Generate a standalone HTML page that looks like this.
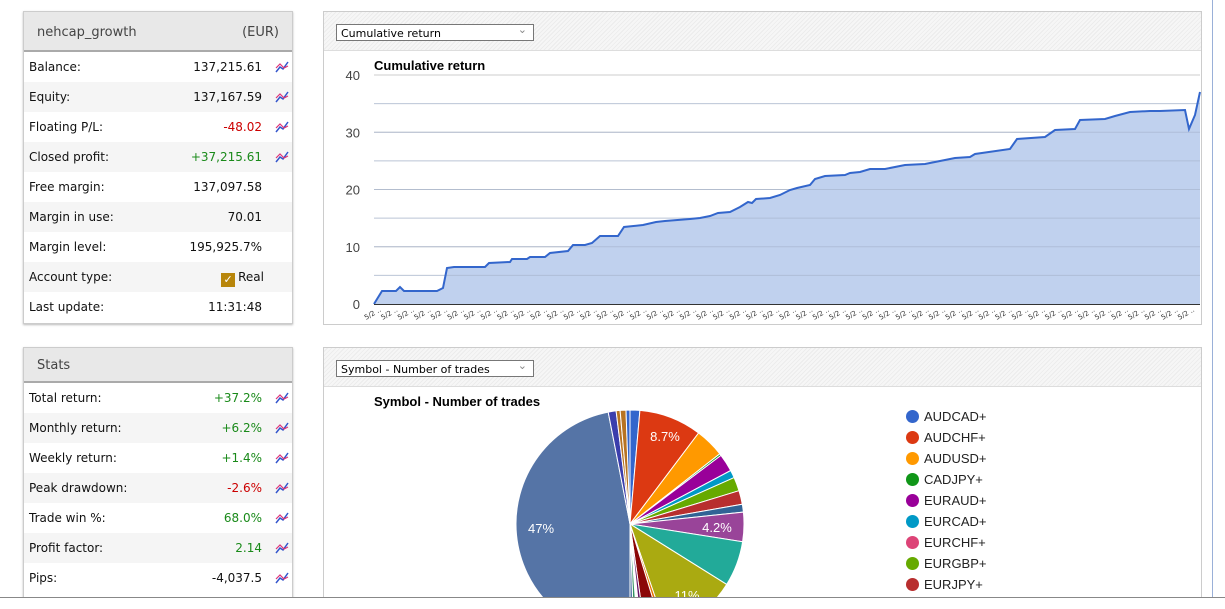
<!DOCTYPE html>
<html><head><meta charset="utf-8"><style>
body{margin:0;width:1225px;height:608px;overflow:hidden;background:#fff;font-family:"DejaVu Sans","Liberation Sans",sans-serif;position:relative}
.panel{position:absolute;border:1px solid #ccc;box-shadow:0 1px 2px #bbb;background:#fff;overflow:hidden}
.lh{background:#e8e8e8;border-bottom:2px solid #aaa;height:38px;font-size:13px;color:#444;box-sizing:border-box;padding:12px 13px}
.row{height:30px;font-size:12px;color:#111;position:relative;line-height:30px;padding-left:5px}
.row .v{position:absolute;right:30px;top:0}
.row svg{position:absolute;right:3px;top:8px}
.g{color:#1a8a1a}.r{color:#c00}
.hatch{height:38px;border-bottom:1px solid #ddd;background:repeating-linear-gradient(135deg,#f6f6f6 0 2px,#ececec 2px 3px);position:relative}
.sel{position:absolute;left:12px;top:12px;height:17px;border:1px solid #777;background:#fff;font-size:11px;line-height:17px;padding-left:4px;box-sizing:border-box;width:198px}
.sel:after{content:"\2304";position:absolute;right:6px;top:-4px;color:#888;font-size:11px}
.lg{position:absolute;left:906px;font:13px "Liberation Sans",sans-serif;color:#222}
.lg i{display:inline-block;width:13px;height:13px;border-radius:50%;margin-right:5px;vertical-align:-2px}
</style></head><body>
<div class="panel" style="left:23px;top:11px;width:268px;height:311px">
<div class="lh" style="height:40px;padding-top:13px">nehcap_growth<span style="float:right;margin-right:0">(EUR)</span></div>
<div>
<div class="row" style="background:#fff">Balance:<span class="v">137,215.61</span>ICON</div>
<div class="row" style="background:#f5f5f5">Equity:<span class="v">137,167.59</span>ICON</div>
<div class="row" style="background:#fff">Floating P/L:<span class="v r">-48.02</span>ICON</div>
<div class="row" style="background:#f5f5f5">Closed profit:<span class="v g">+37,215.61</span>ICON</div>
<div class="row" style="background:#fff">Free margin:<span class="v">137,097.58</span></div>
<div class="row" style="background:#f5f5f5">Margin in use:<span class="v">70.01</span></div>
<div class="row" style="background:#fff">Margin level:<span class="v">195,925.7%</span></div>
<div class="row" style="background:#f5f5f5">Account type:<span class="v" style="right:28px"><span style="display:inline-block;width:14px;height:14px;background:#b8860b;color:#fff;font-size:11px;line-height:14px;text-align:center;vertical-align:-2px;margin-right:3px">✓</span>Real</span></div>
<div class="row" style="background:#fff">Last update:<span class="v">11:31:48</span></div>
</div></div>
<div class="panel" style="left:23px;top:347px;width:268px;height:250px">
<div class="lh" style="height:35px;padding-top:10px">Stats</div>
<div class="row" style="background:#fff">Total return:<span class="v g">+37.2%</span>ICON</div>
<div class="row" style="background:#f5f5f5">Monthly return:<span class="v g">+6.2%</span>ICON</div>
<div class="row" style="background:#fff">Weekly return:<span class="v g">+1.4%</span>ICON</div>
<div class="row" style="background:#f5f5f5">Peak drawdown:<span class="v r">-2.6%</span>ICON</div>
<div class="row" style="background:#fff">Trade win %:<span class="v g">68.0%</span>ICON</div>
<div class="row" style="background:#f5f5f5">Profit factor:<span class="v g">2.14</span>ICON</div>
<div class="row" style="background:#fff">Pips:<span class="v">-4,037.5</span>ICON</div>
</div>
<div class="panel" style="left:323px;top:11px;width:877px;height:312px;box-shadow:none">
<div class="hatch"><div class="sel">Cumulative return</div></div>
</div>
<div class="panel" style="left:323px;top:347px;width:877px;height:250px;box-shadow:none">
<div class="hatch"><div class="sel">Symbol - Number of trades</div></div>
</div>
<svg id="c" style="position:absolute;left:0;top:0" width="1225" height="597"></svg>
<div class="lg" style="top:409px"><i style="background:#3366cc"></i>AUDCAD+</div>
<div class="lg" style="top:430px"><i style="background:#dc3912"></i>AUDCHF+</div>
<div class="lg" style="top:451px"><i style="background:#ff9900"></i>AUDUSD+</div>
<div class="lg" style="top:472px"><i style="background:#109618"></i>CADJPY+</div>
<div class="lg" style="top:493px"><i style="background:#990099"></i>EURAUD+</div>
<div class="lg" style="top:514px"><i style="background:#0099c6"></i>EURCAD+</div>
<div class="lg" style="top:535px"><i style="background:#dd4477"></i>EURCHF+</div>
<div class="lg" style="top:556px"><i style="background:#66aa00"></i>EURGBP+</div>
<div class="lg" style="top:577px"><i style="background:#b82e2e"></i>EURJPY+</div>
<div style="position:absolute;left:0;top:597px;width:1225px;height:11px;background:#fff;border-top:1px solid #888"></div>
<div style="position:absolute;left:1212px;top:0;width:1px;height:597px;background:#9ab0d8"></div>
<script>
var icon='<svg width="14" height="13"><polyline points="1,12 5,7 8,9 13,2" fill="none" stroke="#3355cc" stroke-width="1.5"/><polyline points="1,8 5,4 9,8 13,6" fill="none" stroke="#dd3377" stroke-width="1.2"/></svg>';
document.querySelectorAll('.row').forEach(function(r){r.innerHTML=r.innerHTML.replace('ICON',icon)});
var s='';
for(var v=0;v<=40;v+=5){var y=304-v*5.725;s+='<line x1="374" x2="1200" y1="'+y+'" y2="'+y+'" stroke="'+(v%10?'#eee':'#ccc')+'"/>';if(v%10==0)s+='<text x="360" y="'+(y+5)+'" font-size="13" fill="#444" text-anchor="end" font-family="Liberation Sans">'+v+'</text>';}
s+='<text x="374" y="70" font-size="13" font-weight="bold" font-family="Liberation Sans">Cumulative return</text>';
var p=[[374,304],[382,291],[396,291],[400,287],[404,291],[437,291],[443,288],[447,268],[454,267],[485,267],[489,263],[510,262],[512,259],[527,259],[530,257],[545,257],[550,253],[568,251],[573,245],[585,245],[592,243],[600,236],[618,236],[624,227],[643,225],[656,222],[665,221],[690,219],[700,218],[710,216],[718,213],[730,212],[740,207],[748,202],[752,203],[756,199],[770,198],[780,195],[790,190],[797,188],[810,185],[815,179],[825,176],[845,175],[850,173],[860,172],[870,169],[885,169],[905,165],[925,164],[940,161],[955,158],[970,157],[975,154],[1010,149],[1017,139],[1045,137],[1055,130],[1075,129],[1080,120],[1105,119],[1115,116],[1130,112],[1150,111],[1160,111],[1185,110],[1189,129],[1195,115],[1200,92]];
var pts=p.map(function(a){return a.join(',')}).join(' ');
s+='<polygon points="374,304 '+pts+' 1200,304" fill="#c0d1ee"/>';
for(var v=5;v<40;v+=5){var y=304-v*5.725;s+='<line x1="374" x2="1200" y1="'+y+'" y2="'+y+'" stroke="#a8b6cf" stroke-opacity="0.7"/>';}
s+='<polyline points="'+pts+'" fill="none" stroke="#3366cc" stroke-width="2"/>';
s+='<line x1="374" x2="1200" y1="304.5" y2="304.5" stroke="#333"/>';
for(var x=366;x<1190;x+=16.6){s+='<text transform="translate('+x+',320) rotate(-30)" font-size="7" fill="#333">5/2 ..</text>';}
s+='<text x="374" y="406" font-size="13" font-weight="bold" font-family="Liberation Sans">Symbol - Number of trades</text>';
var cx=630,cy=524,R=114;
var sl=[[0,5,'#3366cc'],[5,37,'#dc3912'],[37,52,'#ff9900'],[52,53,'#109618'],[53,62,'#990099'],[62,66,'#0099c6'],[66,73,'#66aa00'],[73,80,'#b82e2e'],[80,84,'#316395'],[84,99,'#994499'],[99,122,'#22aa99'],[122,161,'#aaaa11'],[161,163,'#e67300'],[163,172,'#8b0707'],[172,174,'#651067'],[176,178,'#329262'],[178,180,'#5574a6'],[180,349,'#5574a6'],[349,353,'#3b3eac'],[353,355,'#b77322'],[355,358,'#b77322'],[358,360,'#3366cc']];
function pt(a){a=a*Math.PI/180;return (cx+R*Math.sin(a)).toFixed(1)+','+(cy-R*Math.cos(a)).toFixed(1)}
sl.forEach(function(q){s+='<path d="M'+cx+','+cy+' L'+pt(q[0])+' A'+R+','+R+' 0 '+(q[1]-q[0]>180?1:0)+' 1 '+pt(q[1])+' Z" fill="'+q[2]+'" stroke="#fff" stroke-width="1"/>'});
[['8.7%',665,441],['47%',541,533],['4.2%',717,532],['11%',687,600]].forEach(function(t){s+='<text x="'+t[1]+'" y="'+t[2]+'" font-size="13" fill="#fff" text-anchor="middle" font-family="Liberation Sans">'+t[0]+'</text>'});
document.getElementById('c').innerHTML=s;
</script>
</body></html>
